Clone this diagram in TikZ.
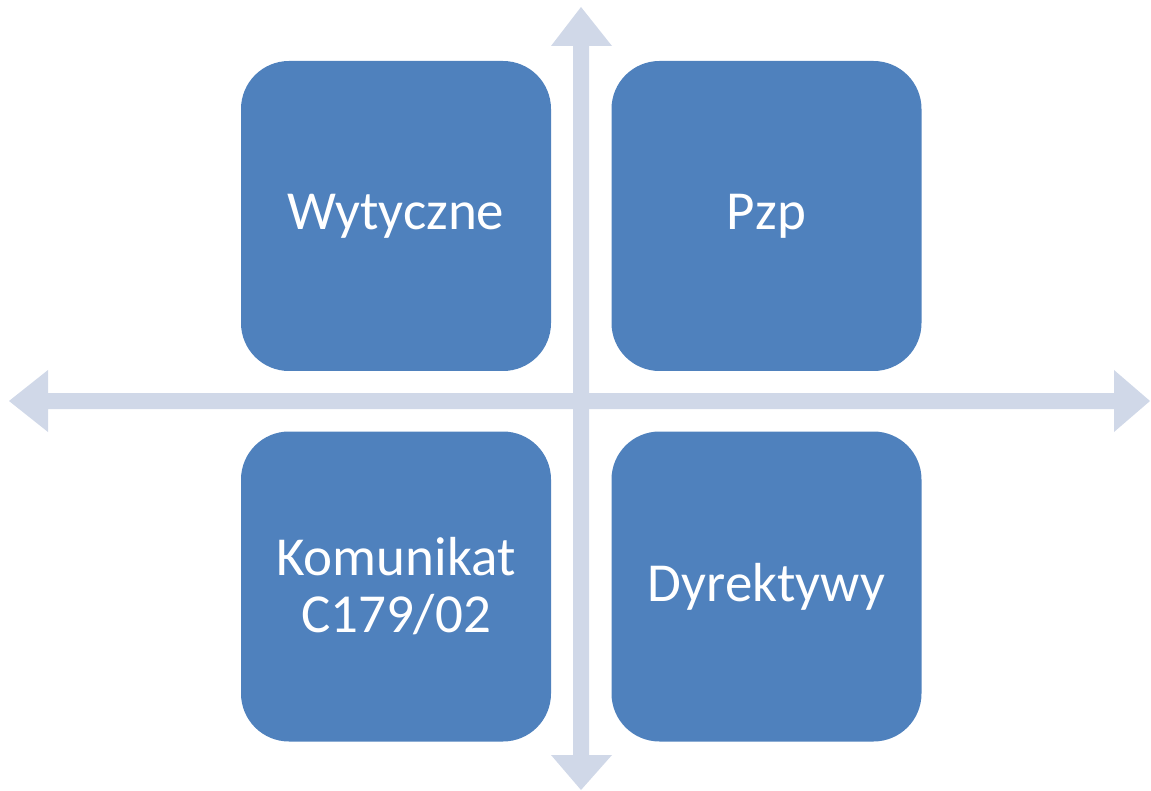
\documentclass[tikz,border=0pt]{standalone}
\usepackage{fontspec}
\setmainfont{Carlito}
\definecolor{boxblue}{HTML}{4F81BD}
\definecolor{arrowgray}{HTML}{D0D8E8}
\begin{document}
\begin{tikzpicture}[x=1pt,y=-1pt,
  quad/.style={draw=none, fill=boxblue, rounded corners=48pt, minimum width=310pt, minimum height=310pt,
    text=white, align=center, inner sep=0pt, font=\fontsize{55}{57}\selectfont},
  arrowfill/.style={fill=arrowgray, draw=none}]
\useasboundingbox (0,0) rectangle (1151,791);
% axes (double arrows)
\fill[arrowfill] (9,401) -- (48,370) -- (48,393) -- (1114,393) -- (1114,370) -- (1150,401)
  -- (1114,432) -- (1114,409) -- (48,409) -- (48,432) -- cycle;
\fill[arrowfill] (581,7) -- (612,46) -- (589,46) -- (589,755) -- (612,755) -- (581,790)
  -- (551,755) -- (573,755) -- (573,46) -- (551,46) -- cycle;
% boxes
\node[quad] (tl) at (396,216) {Wytyczne};
\node[quad] (tr) at (766.5,216) {Pzp};
\node[quad] (bl) at (396,586.5) {Komunikat\\C179/02};
\node[quad] (br) at (766.5,586.5) {Dyrektywy};
\end{tikzpicture}
\end{document}
